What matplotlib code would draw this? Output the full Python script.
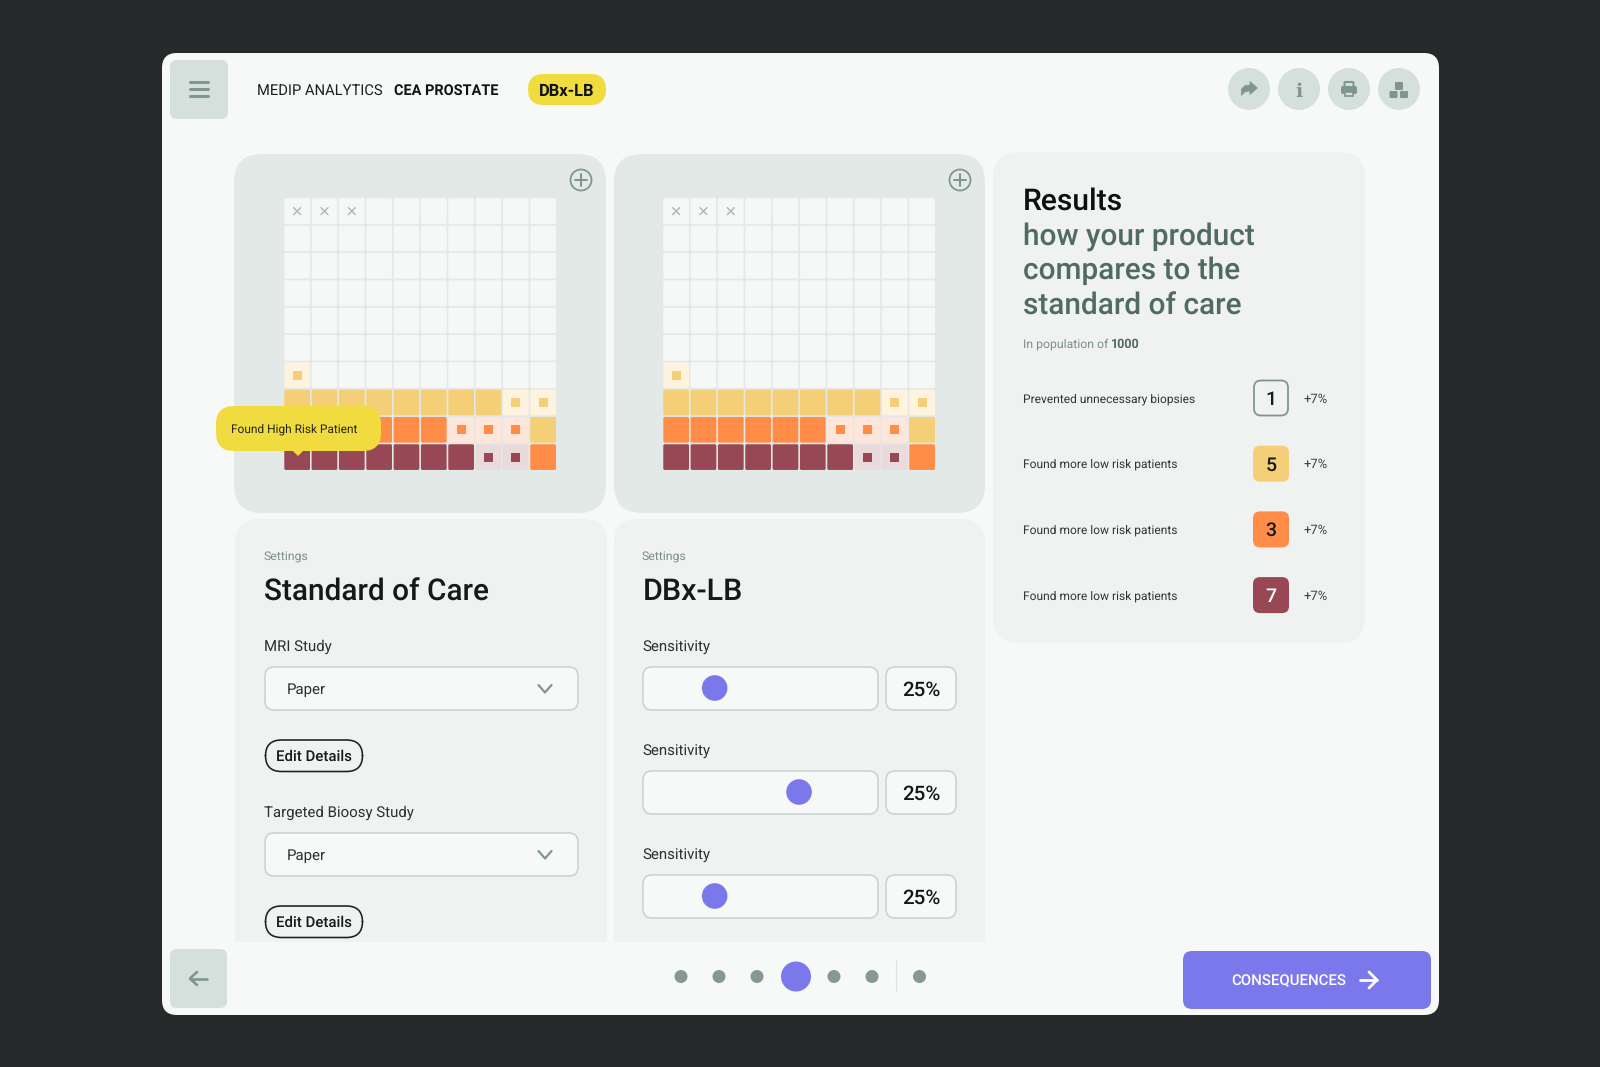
import matplotlib
matplotlib.use("Agg")
import matplotlib.pyplot as plt
from matplotlib.patches import FancyBboxPatch, Circle, Polygon, Rectangle

FONT = "Roboto"
plt.rcParams["text.hinting"] = "no_hinting"

# grid codes: . empty, x crossed, y/o/m solid, Y/O/M hollow (small square inside)
GRID_LEFT = [
    "xxx.......",
    "..........",
    "..........",
    "..........",
    "..........",
    "..........",
    "Y.........",
    "yyyyyyyyYY",
    "ooooooOOOy",
    "mmmmmmmMMo",
]
GRID_RIGHT = list(GRID_LEFT)

RESULT_LABELS = [
    "Prevented unnecessary biopsies",
    "Found more low risk patients",
    "Found more low risk patients",
    "Found more low risk patients",
]
RESULT_COUNTS = [1, 5, 3, 7]
RESULT_DELTAS = ["+7%", "+7%", "+7%", "+7%"]

SLIDER_LABELS = ["Sensitivity", "Sensitivity", "Sensitivity"]
SLIDER_KNOBS = [0.305, 0.664, 0.305]
SLIDER_VALUES = ["25%", "25%", "25%"]

STUDY_LABELS = ["MRI Study", "Targeted Bioosy Study"]
STUDY_VALUES = ["Paper", "Paper"]

STEP_DOTS = [0, 0, 0, 1, 0, 0, 0]

BG = "#262a2a"
PANEL = "#f7f9f8"
CARD_DARK = "#e3e9e7"
CARD_LIGHT = "#eff2f1"
BTN = "#d5dfdb"
ICON = "#7f968e"
BORDER = "#c8d4cf"
PURPLE = "#7b78ec"
PILL = "#f0dc3e"
YELLOW = "#f4cf78"
ORANGE = "#ff8d47"
MAROON = "#984755"
DARK = "#16191a"
GREEN_TXT = "#4f6b62"
GREY_TXT = "#7d8f88"

SOLID = {"y": YELLOW, "o": ORANGE, "m": MAROON}
TINT = {"Y": "#fdf3df", "O": "#fee7da", "M": "#eadadc"}
INNER = {"Y": YELLOW, "O": ORANGE, "M": MAROON}
BADGE = {1: None, 5: YELLOW, 3: ORANGE, 7: MAROON}

fig = plt.figure(figsize=(16, 10.67), dpi=100, facecolor=BG)
ax = fig.add_axes([0, 0, 1, 1])
ax.set_xlim(0, 1600)
ax.set_ylim(1067, 0)
ax.axis("off")


def box(x0, y0, x1, y1, r, fc, ec="none", lw=0, z=1):
    p = FancyBboxPatch((x0, y0), x1 - x0, y1 - y0,
                       boxstyle=f"round,pad=0,rounding_size={r}",
                       fc=fc, ec=ec, lw=lw * 0.72, zorder=z)
    ax.add_patch(p)
    return p


def label(x, y, s, px, color=DARK, weight="normal", ha="left", z=6, family=FONT):
    return ax.text(x, y, s, fontsize=px * 0.72, color=color, weight=weight,
                   ha=ha, va="center_baseline", zorder=z, family=family)


def line(xs, ys, color=ICON, lw=2, z=5):
    ax.plot(xs, ys, color=color, lw=lw * 0.72, zorder=z,
            solid_capstyle="round", solid_joinstyle="round")


def draw_grid(codes, x0, y0):
    pitch = 27.33
    size = 25.7
    for r, row in enumerate(codes):
        for c, code in enumerate(row):
            x = x0 + c * pitch
            y = y0 + r * pitch
            fc = SOLID.get(code, TINT.get(code, "#f6f8f7"))
            box(x, y, x + size, y + size, 1.5, fc, z=2)
            cx = x + size / 2
            cy = y + size / 2
            if code in INNER:
                ax.add_patch(Rectangle((cx - 4.5, cy - 4.5), 9, 9, fc=INNER[code], ec="none", zorder=3))
            if code == "x":
                line([cx - 3.5, cx + 3.5], [cy - 3.5, cy + 3.5], "#a9b8b2", 1.4, 3)
                line([cx - 3.5, cx + 3.5], [cy + 3.5, cy - 3.5], "#a9b8b2", 1.4, 3)


def plus_icon(cx, cy):
    ax.add_patch(Circle((cx, cy), 10.5, fc="none", ec=ICON, lw=1.3, zorder=3))
    line([cx - 6, cx + 6], [cy, cy], ICON, 2, 3)
    line([cx, cx], [cy - 6, cy + 6], ICON, 2, 3)


def chevron(cx, cy):
    line([cx - 6.5, cx, cx + 6.5], [cy - 4, cy + 3.5, cy - 4], ICON, 2.2)


# page frame
box(162, 53, 1439, 1015, 15, PANEL)

# top bar
box(170, 60, 228, 119, 7, BTN, z=2)
for y in [82, 89, 96]:
    line([190, 208], [y, y], ICON, 3)
label(257, 89.5, "MEDIP ANALYTICS", 14.8, "#1b1f20")
label(394, 89.5, "CEA PROSTATE", 14.5, "#111415", weight="bold")
box(528, 74, 606, 105, 15.5, PILL, z=2)
label(567, 90, "DBx-LB", 16.5, "#111415", weight="bold", ha="center")

for cx in [1249, 1299, 1349, 1399]:
    ax.add_patch(Circle((cx, 89), 21, fc=BTN, ec="none", zorder=2))
# share
ax.add_patch(Polygon([(1257.5, 88), (1250, 81.5), (1250, 85), (1245, 85.5), (1241.5, 89),
                      (1241.5, 95.5), (1244.5, 92), (1250, 91), (1250, 94.5)],
                     fc=ICON, ec=ICON, lw=0.5, zorder=4))
# info
label(1299, 89.5, "i", 19, ICON, weight="bold", ha="center", family="DejaVu Serif")
# printer
box(1344.5, 82, 1353.5, 88, 1, "none", ec=ICON, lw=2, z=4)
box(1341, 86, 1357, 94, 2, ICON, z=4)
ax.add_patch(Rectangle((1345, 91.5), 8, 4.5, fc=BTN, ec=ICON, lw=1.2, zorder=5))
# blocks
box(1395, 82, 1403, 90, 1, ICON, z=4)
box(1389.5, 91, 1397.5, 98, 1, ICON, z=4)
box(1400, 91, 1408, 98, 1, ICON, z=4)

# chart cards
box(234, 154, 606, 513, 28, CARD_DARK)
box(614, 154, 985, 513, 28, CARD_DARK)
draw_grid(GRID_LEFT, 284.3, 198.3)
draw_grid(GRID_RIGHT, 663.3, 198.3)
plus_icon(581, 180)
plus_icon(960, 180)

# tooltip
box(216, 406, 381, 451, 18, PILL, z=7)
ax.add_patch(Polygon([(292, 450), (304, 450), (298, 456)], fc=PILL, ec="none", zorder=7))
label(231, 428, "Found High Risk Patient", 11.9, "#24241a", z=8)

# settings cards
box(235, 519, 607, 990, 24, CARD_LIGHT)
box(614, 519, 985, 990, 24, CARD_LIGHT)

label(264, 556, "Settings", 12.3, GREY_TXT)
label(264.5, 589.5, "Standard of Care", 29.7, DARK, weight="medium")
for i, (name, value) in enumerate(zip(STUDY_LABELS, STUDY_VALUES)):
    off = i * 166
    label(264.5, 645 + off, name, 15, "#2a2f30")
    box(265, 667 + off, 578, 710 + off, 9, PANEL, ec=BORDER, lw=1.6, z=2)
    label(286.5, 688.5 + off, value, 15, "#2a2f30")
    chevron(545, 689 + off)
    box(265.5, 740 + off, 362.5, 771.5 + off, 16, "none", ec="#1c2021", lw=1.6, z=2)
    label(313.5, 755.5 + off, "Edit Details", 15, DARK, weight="medium", ha="center")

label(642, 556, "Settings", 12.3, GREY_TXT)
label(642.5, 589, "DBx-LB", 30.5, DARK, weight="medium")
for i, (name, knob, value) in enumerate(zip(SLIDER_LABELS, SLIDER_KNOBS, SLIDER_VALUES)):
    off = i * 104
    label(642, 646 + off, name, 15, "#2a2f30")
    box(643, 667 + off, 878, 710 + off, 9, PANEL, ec=BORDER, lw=1.6, z=2)
    ax.add_patch(Circle((643 + knob * 235, 688 + off), 12.8, fc=PURPLE, ec="none", zorder=3))
    box(886, 667 + off, 956, 710 + off, 9, PANEL, ec=BORDER, lw=1.6, z=2)
    label(921.5, 688.5 + off, value, 20.5, DARK, weight="medium", ha="center")

# results card
box(993, 152, 1365, 643, 26, CARD_LIGHT)
label(1023, 198, "Results", 30, "#0d1011", weight="medium")
for y, s in zip([233, 268, 303], ["how your product", "compares to the", "standard of care"]):
    label(1023, y, s, 29.8, GREEN_TXT, weight="medium")
label(1023, 342.5, "In population of", 12.2, GREY_TXT)
label(1111, 342.5, "1000", 12.5, GREEN_TXT, weight="bold")

for i, (name, count, delta) in enumerate(zip(RESULT_LABELS, RESULT_COUNTS, RESULT_DELTAS)):
    y = 398 + i * 65.7
    label(1023, y - 0.5, name, 12, "#2f3536")
    fc = BADGE[count]
    if fc is None:
        box(1254, y - 17.5, 1288, y + 17.5, 7, "none", ec=ICON, lw=1.8, z=2)
    else:
        box(1253, y - 18, 1289, y + 18, 7, fc, z=2)
    label(1271, y - 0.5, str(count), 19.5, "white" if count == 7 else DARK, weight="medium", ha="center")
    label(1304, y - 0.5, delta, 13, "#3a4243")

# footer covers the bottom of the settings cards
ax.add_patch(Rectangle((170, 942), 1262, 68, fc=PANEL, ec="none", zorder=4))
box(170, 949, 227, 1008, 7, BTN, z=5)
line([190, 207], [978.5, 978.5], ICON, 2.6, 6)
line([197, 190, 197], [972, 978.5, 985], ICON, 2.6, 6)

dot_x = [681, 719, 757, 796, 834, 872, 919.5]
for x, big in zip(dot_x, STEP_DOTS):
    ax.add_patch(Circle((x, 976.5), 15 if big else 6.5, fc=PURPLE if big else "#85998f", ec="none", zorder=5))
line([896, 896], [960, 991], "#dfe5e3", 1.2, 5)

box(1183, 951, 1431, 1009, 9, PURPLE, z=5)
label(1231, 979.5, "CONSEQUENCES", 15, "white", weight="medium", z=7)
line([1360, 1377], [980, 980], "white", 2.8, 7)
line([1369, 1377, 1369], [972, 980, 988], "white", 2.8, 7)

fig.savefig("out.png", dpi=100, facecolor=BG)
